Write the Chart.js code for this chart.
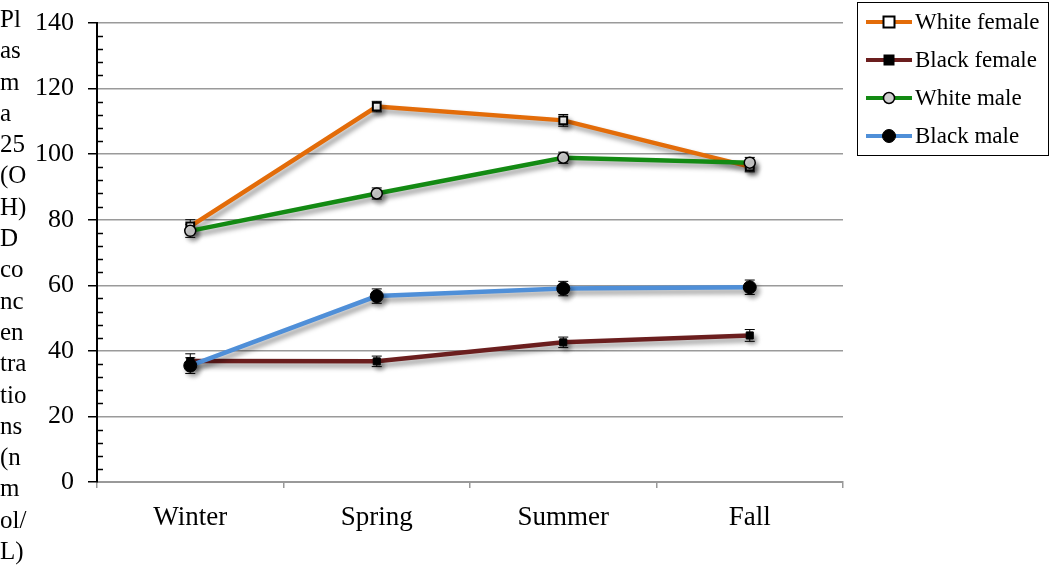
<!DOCTYPE html>
<html>
<head>
<meta charset="utf-8">
<script src="https://cdn.jsdelivr.net/npm/chart.js@4"></script>
<style>
  html, body { margin: 0; padding: 0; background: #fff; }
  #wrap { position: relative; width: 1050px; height: 571px; }
  #ytitle { position: absolute; left: 0px; top: 3px; font-family: "Liberation Serif", "Times New Roman", serif; font-size: 25px; line-height: 31.3px; color: #000; white-space: pre; }
</style>
</head>
<body>
<div id="wrap">
  <canvas id="c" width="1050" height="571"></canvas>
  <div id="ytitle"></div>
</div>
<script>
// ---- data ----
const categories = ["Winter", "Spring", "Summer", "Fall"];
const seriesNames = ["White female", "Black female", "White male", "Black male"];
const whiteFemale = [78, 114.5, 110.3, 96.2];
const blackFemale = [36.9, 36.8, 42.6, 44.7];
const whiteMale   = [76.6, 88.0, 98.9, 97.4];
const blackMale   = [35.5, 56.7, 59.0, 59.4];
const whiteFemaleErr = [2.0, 1.6, 1.8, 1.6];
const blackFemaleErr = [2.2, 1.6, 1.6, 1.8];
const whiteMaleErr   = [2.0, 1.7, 1.7, 1.6];
const blackMaleErr   = [2.4, 2.2, 2.2, 2.2];
const yTitleLines = ["Pl","as","m","a","25","(O","H)","D","co","nc","en","tra","tio","ns","(n","m","ol/","L)"];

document.getElementById('ytitle').textContent = yTitleLines.join("\n");

const FONT = '"Liberation Serif", "Times New Roman", serif';

const errorBars = {
  id: 'errorBars',
  beforeDatasetsDraw(chart) {
    const ctx = chart.ctx, ys = chart.scales.y;
    ctx.save();
    ctx.strokeStyle = '#000';
    ctx.lineWidth = 1;
    chart.data.datasets.forEach((ds, i) => {
      const meta = chart.getDatasetMeta(i);
      meta.data.forEach((pt, j) => {
        const v = ds.data[j], e = ds.errors[j];
        const t = ys.getPixelForValue(v + e), b = ys.getPixelForValue(v - e);
        ctx.beginPath();
        ctx.moveTo(pt.x, t); ctx.lineTo(pt.x, b);
        ctx.moveTo(pt.x - 5, t); ctx.lineTo(pt.x + 5, t);
        ctx.moveTo(pt.x - 5, b); ctx.lineTo(pt.x + 5, b);
        ctx.stroke();
      });
    });
    ctx.restore();
  }
};

const shadow = {
  id: 'shadow',
  beforeDatasetDraw(chart) {
    const ctx = chart.ctx;
    ctx.save();
    ctx.shadowColor = 'rgba(0,0,0,0.4)';
    ctx.shadowBlur = 5;
    ctx.shadowOffsetX = 3;
    ctx.shadowOffsetY = 4;
  },
  afterDatasetDraw(chart) { chart.ctx.restore(); }
};

const minorTicks = {
  id: 'minorTicks',
  afterDraw(chart) {
    const ctx = chart.ctx, ys = chart.scales.y, x0 = chart.chartArea.left;
    ctx.save();
    ctx.strokeStyle = '#000';
    ctx.lineWidth = 1.5;
    for (let v = 0; v <= 140; v += 4) {
      if (v % 20 === 0) continue;
      const y = Math.round(ys.getPixelForValue(v)) + 0.5;
      ctx.beginPath(); ctx.moveTo(x0, y); ctx.lineTo(x0 + 6, y); ctx.stroke();
    }
    ctx.restore();
  }
};

const boxLegend = {
  id: 'boxLegend',
  afterDraw(chart) {
    const ctx = chart.ctx;
    ctx.save();
    ctx.strokeStyle = '#000';
    ctx.lineWidth = 1;
    ctx.strokeRect(857.5, 2.5, 191, 153);
    chart.data.datasets.forEach((ds, i) => {
      const y = 22 + i * 38;
      ctx.strokeStyle = ds.borderColor;
      ctx.lineWidth = 4;
      ctx.beginPath(); ctx.moveTo(866, y); ctx.lineTo(912, y); ctx.stroke();
      ctx.fillStyle = ds.pointBackgroundColor;
      ctx.strokeStyle = ds.pointBorderColor;
      ctx.lineWidth = ds.pointBorderWidth;
      const r = ds.pointRadius;
      if (ds.pointStyle === 'rect') {
        ctx.fillRect(889 - r, y - r, 2 * r, 2 * r);
        ctx.strokeRect(889 - r, y - r, 2 * r, 2 * r);
      } else {
        ctx.beginPath(); ctx.arc(889, y, r, 0, Math.PI * 2); ctx.fill(); ctx.stroke();
      }
      ctx.fillStyle = '#000';
      ctx.font = '23px ' + FONT;
      ctx.textBaseline = 'middle';
      ctx.fillText(seriesNames[i], 915, y + 1);
    });
    ctx.restore();
  }
};

new Chart(document.getElementById('c'), {
  type: 'line',
  data: {
    labels: categories,
    datasets: [
      { label: seriesNames[0], data: whiteFemale, errors: whiteFemaleErr, order: 4,
        borderColor: '#E36C09', borderWidth: 4.5, pointStyle: 'rect', pointRadius: 5.5,
        pointBackgroundColor: '#ffffff', pointBorderColor: '#000', pointBorderWidth: 2 },
      { label: seriesNames[1], data: blackFemale, errors: blackFemaleErr, order: 3,
        borderColor: '#6B1E1E', borderWidth: 4.5, pointStyle: 'rect', pointRadius: 5,
        pointBackgroundColor: '#000000', pointBorderColor: '#000', pointBorderWidth: 1 },
      { label: seriesNames[2], data: whiteMale, errors: whiteMaleErr, order: 2,
        borderColor: '#138A13', borderWidth: 4.5, pointStyle: 'circle', pointRadius: 5.5,
        pointBackgroundColor: '#d0d0d0', pointBorderColor: '#000', pointBorderWidth: 1.5 },
      { label: seriesNames[3], data: blackMale, errors: blackMaleErr, order: 1,
        borderColor: '#4F8FD8', borderWidth: 4.5, pointStyle: 'circle', pointRadius: 6.5,
        pointBackgroundColor: '#000000', pointBorderColor: '#000', pointBorderWidth: 1 }
    ]
  },
  options: {
    responsive: false,
    animation: false,
    events: [],
    layout: { padding: { left: 0, right: 207, top: 23, bottom: 0 } },
    plugins: { legend: { display: false }, tooltip: { enabled: false } },
    elements: { line: { tension: 0 } },
    scales: {
      x: {
        offset: true,
        afterFit(s) { s.height = 89; s.paddingLeft = 0; s.paddingRight = 0; },
        grid: { offset: true, drawOnChartArea: false, tickLength: 6, color: '#999', lineWidth: 1.5 },
        border: { color: '#999', width: 2 },
        ticks: { color: '#000', font: { family: FONT, size: 27 }, padding: 14 }
      },
      y: {
        min: 0, max: 140,
        afterFit(s) { s.width = 97; s.paddingTop = 0; s.paddingBottom = 0; },
        ticks: {
          stepSize: 4, autoSkip: false, color: '#000', padding: 14,
          font: { family: FONT, size: 26 },
          callback: v => (v % 20 === 0 ? String(v) : '')
        },
        grid: {
          lineWidth: 1.5,
          tickLength: 9,
          color: c => (c.tick && c.tick.value % 20 === 0 ? '#9a9a9a' : 'rgba(0,0,0,0)'),
          tickColor: c => (c.tick && c.tick.value % 20 === 0 ? '#000' : 'rgba(0,0,0,0)')
        },
        border: { color: '#000', width: 2 }
      }
    }
  },
  plugins: [errorBars, shadow, minorTicks, boxLegend]
});
</script>
</body>
</html>
